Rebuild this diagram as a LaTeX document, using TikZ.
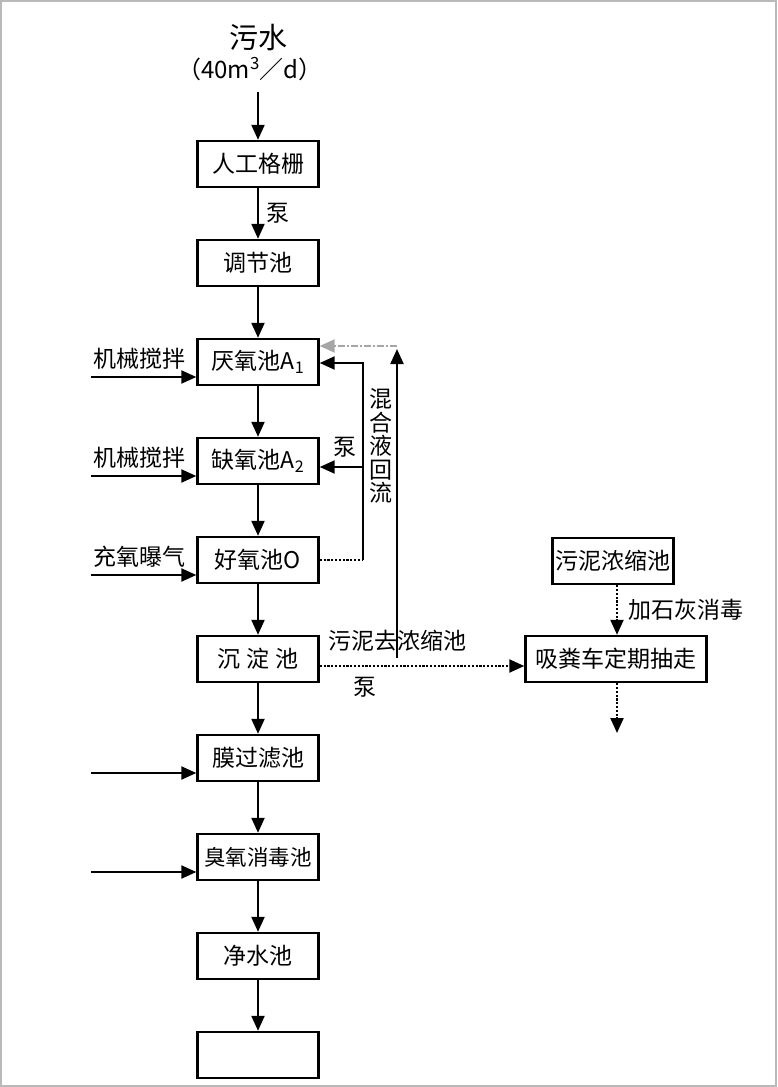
\documentclass[tikz,border=0pt]{standalone}
\usepackage{fontspec}
\setmainfont{Noto Sans CJK SC}
\usetikzlibrary{arrows.meta,positioning,calc}
\tikzset{
    pool/.style={draw, line width=2.4pt, minimum width=121pt, minimum height=46pt, inner sep=2pt, font=\fontsize{23}{26}\selectfont},
    flow/.style={-{Triangle[length=15pt,width=13pt]}, line width=2.2pt},
    sludge/.style={flow, dash pattern=on 2.2pt off 1.6pt},
    lbl/.style={inner sep=0pt, font=\fontsize{23}{26}\selectfont}
}

\begin{document}
\begin{tikzpicture}[x=1pt, y=1pt]
% frame
\useasboundingbox (0,0) rectangle (777,-1087);
\draw[gray!55, line width=2pt] (1,-1) rectangle (776,-1086);

% Inflow
\node[font=\fontsize{29}{32}\selectfont, inner sep=0pt] (sewage) at (258,-38) {污水};
\node[lbl, font=\fontsize{24}{27}\selectfont] (rate) at (250,-69) {（40m\textsuperscript{3}／d）};
\coordinate (src) at (258,-92);

% Main line
\node[pool] (screen) at (258,-164) {人工格栅};
\node[pool, below=50.6pt of screen] (adjust) {调节池};
\node[pool, below=50.6pt of adjust] (anaer) {厌氧池A\textsubscript{1}};
\node[pool, below=50.6pt of anaer] (anox) {缺氧池A\textsubscript{2}};
\node[pool, below=50.6pt of anox] (aer) {好氧池O};
\node[pool, below=50.6pt of aer] (settle) {沉\hspace{6pt}淀\hspace{6pt}池};
\node[pool, below=50.6pt of settle] (membr) {膜过滤池};
\node[pool, below=50.6pt of membr, font=\fontsize{21.5}{26}\selectfont] (ozone) {臭氧消毒池};
\node[pool, below=50.6pt of ozone] (clean) {净水池};
\node[pool, below=50.6pt of clean] (outlet) {};

\draw[flow] (src) -- (screen);
\draw[flow] (screen) -- node[lbl, right=7pt] (pump1) {泵} (adjust);
\draw[flow] (adjust) -- (anaer);
\draw[flow] (anaer) -- (anox);
\draw[flow] (anox) -- (aer);
\draw[flow] (aer) -- (settle);
\draw[flow] (settle) -- (membr);
\draw[flow] (membr) -- (ozone);
\draw[flow] (ozone) -- (clean);
\draw[flow] (clean) -- (outlet);

% Side inputs
\foreach \pname/\ilabel in {anaer/机械搅拌, anox/机械搅拌, aer/充氧曝气, membr/, ozone/}{
  \coordinate (in-\pname) at ([xshift=-105pt,yshift=-15pt]\pname.west);
  \draw[flow] (in-\pname) -- (in-\pname -| \pname.west);
  \node[lbl, above right=7pt and 2pt of in-\pname] (lbl-\pname) {\ilabel};
}

% Mixed liquor recycle
\coordinate (rc) at (363,-559);
\draw[line width=2.2pt, dash pattern=on 2.2pt off 1.6pt] (aer.east) -- (aer.east -| rc);
\draw[flow] (aer.east -| rc) -- ([yshift=-1pt]anaer.east -| rc) -- ([yshift=-1pt]anaer.east);
\draw[flow] ([yshift=-6pt]anox.east -| rc) -- ([yshift=-6pt]anox.east);
\node[lbl] (pump2) at (345,-447) {泵};
\node[lbl, align=center, font=\fontsize{23}{23.6}\selectfont] (mixlbl) at (381,-446) {混\\合\\液\\回\\流};

% Sludge line
\coordinate (sl) at (397,-658);
\coordinate (slt) at (397,-346);
\draw[flow] (sl) -- ([yshift=-3pt]slt);
\draw[flow, gray!70, dash pattern=on 7pt off 2pt on 2pt off 2pt] (slt) -- (slt -| anaer.east);

% Sludge treatment
\node[pool, minimum width=181pt] (truck) at (616,-659) {吸粪车定期抽走};
\node[pool] (thick) at (613,-561) {污泥浓缩池};
\draw[sludge] ([yshift=-7pt]settle.east) -- ([yshift=-7pt]settle.east -| truck.west);
\node[lbl] (sltext) at (397,-641) {污泥去浓缩池};
\node[lbl] (pump3) at (365,-687) {泵};
\draw[sludge] (thick.south -| 617,0) -- (truck.north -| 617,0) node[lbl, midway, right=10pt] (lime) {加石灰消毒};
\coordinate (haul) at (617,-733);
\draw[sludge] (truck.south -| haul) -- (haul);
\end{tikzpicture}
\end{document}
